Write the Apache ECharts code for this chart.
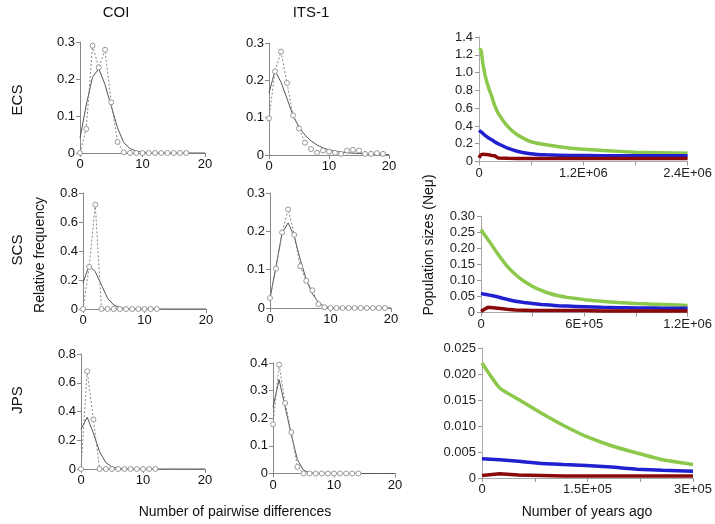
<!DOCTYPE html>
<html>
<head>
<meta charset="utf-8">
<script src="https://cdn.jsdelivr.net/npm/echarts@6/dist/echarts.min.js"></script>
<style>
html,body{margin:0;padding:0;background:#fff;}
#chart{width:715px;height:524px;}
</style>
</head>
<body>
<div id="chart"></div>
<script>
// ---------- Mismatch distributions (x = number of pairwise differences 0,1,2,...) ----------
const coiEcsObs = [0, 0.065, 0.29, 0.231, 0.279, 0.137, 0.03, 0.002, 0, 0, 0, 0, 0, 0, 0, 0, 0, 0];
const coiEcsExp = [0.04, 0.13, 0.205, 0.228, 0.185, 0.126, 0.068, 0.028, 0.012, 0.005, 0.002, 0.001, 0, 0, 0, 0, 0, 0, 0, 0, 0];
const itsEcsObs = [0.098, 0.224, 0.277, 0.193, 0.106, 0.071, 0.033, 0.016, 0.006, 0.012, 0.009, 0.006, 0.003, 0.012, 0.014, 0.012, 0.003, 0.003, 0.005, 0.003];
const itsEcsExp = [0.166, 0.226, 0.195, 0.151, 0.106, 0.075, 0.053, 0.038, 0.027, 0.019, 0.014, 0.01, 0.008, 0.006, 0.005, 0.004, 0.003, 0.002, 0.002, 0.001, 0.001];
const coiScsObs = [0, 0.29, 0.72, 0, 0, 0, 0, 0, 0, 0, 0, 0, 0];
const coiScsExp = [0.18, 0.30, 0.257, 0.165, 0.074, 0.028, 0.01, 0.004, 0.002, 0.001, 0, 0, 0, 0, 0, 0, 0, 0, 0, 0, 0];
const itsScsObs = [0.026, 0.103, 0.197, 0.257, 0.191, 0.109, 0.071, 0.046, 0.01, 0.002, 0, 0, 0, 0, 0, 0, 0, 0, 0, 0];
const itsScsExp = [0.026, 0.109, 0.196, 0.222, 0.187, 0.126, 0.074, 0.037, 0.015, 0.004, 0.001, 0, 0, 0, 0, 0, 0, 0, 0, 0, 0];
const coiJpsObs = [0, 0.68, 0.345, 0, 0, 0, 0, 0, 0, 0, 0, 0, 0];
const coiJpsExp = [0.276, 0.36, 0.25, 0.12, 0.045, 0.015, 0.005, 0.002, 0, 0, 0, 0, 0, 0, 0, 0, 0, 0, 0, 0, 0];
const itsJpsObs = [0.178, 0.394, 0.255, 0.149, 0.024, 0, 0, 0, 0, 0, 0, 0, 0, 0, 0];
const itsJpsExp = [0.24, 0.34, 0.24, 0.14, 0.05, 0.012, 0.003, 0.001, 0, 0, 0, 0, 0, 0, 0, 0, 0, 0, 0, 0, 0];

// ---------- Population sizes through time ----------
const ecsYears = [0, 20000, 45000, 73000, 110000, 147000, 180000, 220000, 330000, 440000, 590000, 770000, 1060000, 1430000, 1800000, 2400000];
const ecsGreen = [1.25, 1.26, 1.1, 0.958, 0.83, 0.732, 0.63, 0.544, 0.394, 0.30, 0.225, 0.188, 0.15, 0.124, 0.105, 0.094];
const ecsBlue  = [0.35, 0.335, 0.315, 0.29, 0.265, 0.244, 0.222, 0.2, 0.15, 0.115, 0.088, 0.075, 0.068, 0.066, 0.065, 0.065];
const ecsRed   = [0.04, 0.075, 0.083, 0.08, 0.075, 0.068, 0.065, 0.04, 0.036, 0.035, 0.035, 0.035, 0.035, 0.035, 0.035, 0.035];

const scsYears = [0, 20000, 40000, 50000, 100000, 150000, 200000, 250000, 300000, 350000, 400000, 450000, 500000, 600000, 700000, 800000, 900000, 1000000, 1100000, 1200000];
const scsGreen = [0.258, 0.242, 0.227, 0.22, 0.18, 0.145, 0.118, 0.097, 0.081, 0.069, 0.059, 0.052, 0.047, 0.040, 0.035, 0.031, 0.028, 0.026, 0.024, 0.022];
const scsBlue  = [0.059, 0.057, 0.055, 0.054, 0.048, 0.041, 0.035, 0.031, 0.028, 0.025, 0.023, 0.021, 0.02, 0.018, 0.016, 0.015, 0.014, 0.014, 0.013, 0.013];
const scsRed   = [0.003, 0.01, 0.016, 0.015, 0.013, 0.01, 0.008, 0.007, 0.006, 0.006, 0.006, 0.006, 0.006, 0.006, 0.005, 0.005, 0.005, 0.005, 0.005, 0.005];

const jpsYears = [0, 25000, 52000, 84000, 116000, 148000, 184000, 220000, 257000, 300000];
const jpsGreen = [0.0221, 0.0173, 0.0151, 0.0125, 0.0101, 0.008, 0.0062, 0.0048, 0.0035, 0.0026];
const jpsBlue  = [0.0037, 0.0035, 0.0032, 0.0028, 0.0026, 0.0024, 0.0021, 0.0017, 0.0015, 0.0013];
const jpsRed   = [0.0005, 0.0008, 0.0006, 0.0005, 0.0004, 0.0004, 0.0004, 0.0004, 0.0004, 0.0004];

// ---------- Tick labels ----------
const ecsXTicks = [0, 1200000, 2400000];
const ecsXLabels = ['0', '1.2E+06', '2.4E+06'];
const scsXTicks = [0, 600000, 1200000];
const scsXLabels = ['0', '6E+05', '1.2E+06'];
const jpsXTicks = [0, 150000, 300000];
const jpsXLabels = ['0', '1.5E+05', '3E+05'];

const colTitles = ['COI', 'ITS-1'];
const rowTitles = ['ECS', 'SCS', 'JPS'];

// ---------- Layout ----------
const FONT = 'Liberation Sans, Arial, sans-serif';
const grids = [
  {left: 80,  top: 42,  width: 125, height: 111},
  {left: 269, top: 43,  width: 120, height: 112},
  {left: 479, top: 37,  width: 219, height: 124.5},
  {left: 83,  top: 193, width: 123, height: 116},
  {left: 270, top: 193, width: 121, height: 115},
  {left: 481, top: 216, width: 221, height: 96.5},
  {left: 81,  top: 354, width: 124, height: 115},
  {left: 273, top: 363, width: 122, height: 110.5},
  {left: 482, top: 348, width: 220, height: 130}
];

const xAxes = [], yAxes = [], series = [];

function leftPanel(gi, obs, exp, ymax, yint) {
  xAxes.push({
    gridIndex: gi, type: 'value', min: 0, max: 20, interval: 10,
    axisLine: {show: true, lineStyle: {color: '#888', width: 1}},
    axisTick: {show: true, length: 4, lineStyle: {color: '#888'}},
    axisLabel: {color: '#111', fontSize: 13, fontFamily: FONT, margin: 5},
    splitLine: {show: false}
  });
  yAxes.push({
    gridIndex: gi, type: 'value', min: 0, max: ymax, interval: yint,
    axisLine: {show: true, lineStyle: {color: '#888', width: 1}},
    axisTick: {show: true, length: 4, lineStyle: {color: '#888'}},
    axisLabel: {color: '#111', fontSize: 13, fontFamily: FONT, margin: 5},
    splitLine: {show: false}
  });
  series.push({
    type: 'line', xAxisIndex: gi, yAxisIndex: gi,
    data: exp.map((v, i) => [i, v]),
    symbol: 'none', lineStyle: {color: '#555', width: 1}, silent: true, z: 2
  });
  series.push({
    type: 'line', xAxisIndex: gi, yAxisIndex: gi,
    data: obs.map((v, i) => [i, v]),
    symbol: 'circle', symbolSize: 5,
    itemStyle: {color: '#fff', borderColor: '#999', borderWidth: 1},
    lineStyle: {color: '#888', width: 1, type: [2, 2]}, silent: true, z: 3
  });
}

function rightPanel(gi, years, g, b, r, xmax, xint, ticks, labels, ymax, yint, dec) {
  xAxes.push({
    gridIndex: gi, type: 'value', min: 0, max: xmax, interval: xint,
    axisLine: {show: true, lineStyle: {color: '#aaa', width: 1}},
    axisTick: {show: true, length: 4, lineStyle: {color: '#999'}},
    axisLabel: {color: '#222', fontSize: 13, fontFamily: FONT, margin: 5, showMaxLabel: true,
      formatter: v => { const k = ticks.findIndex(t => Math.abs(t - v) < 1); return k >= 0 ? labels[k] : ''; }},
    splitLine: {show: false}
  });
  yAxes.push({
    gridIndex: gi, type: 'value', min: 0, max: ymax, interval: yint,
    axisLine: {show: true, lineStyle: {color: '#aaa', width: 1}},
    axisTick: {show: true, length: 4, lineStyle: {color: '#999'}},
    axisLabel: {color: '#222', fontSize: 13, fontFamily: FONT, margin: 6,
      formatter: v => v === 0 ? '0' : v.toFixed(dec)},
    splitLine: {show: false}
  });
  const mk = (vals, color, z) => ({
    type: 'line', xAxisIndex: gi, yAxisIndex: gi,
    data: vals.map((v, i) => [years[i], v]),
    symbol: 'none', smooth: 0.15, lineStyle: {color: color, width: 3.5}, silent: true, z: z
  });
  series.push(mk(g, '#8cc84b', 2));
  series.push(mk(b, '#2020d0', 3));
  series.push(Object.assign(mk(r, '#8a0a0a', 4), {smooth: false}));
}

leftPanel(0, coiEcsObs, coiEcsExp, 0.3, 0.1);
leftPanel(1, itsEcsObs, itsEcsExp, 0.3, 0.1);
rightPanel(2, ecsYears, ecsGreen, ecsBlue, ecsRed, 2400000, 600000, ecsXTicks, ecsXLabels, 1.4, 0.2, 1);
leftPanel(3, coiScsObs, coiScsExp, 0.8, 0.2);
leftPanel(4, itsScsObs, itsScsExp, 0.3, 0.1);
rightPanel(5, scsYears, scsGreen, scsBlue, scsRed, 1200000, 300000, scsXTicks, scsXLabels, 0.30, 0.05, 2);
leftPanel(6, coiJpsObs, coiJpsExp, 0.8, 0.2);
leftPanel(7, itsJpsObs, itsJpsExp, 0.4, 0.1);
rightPanel(8, jpsYears, jpsGreen, jpsBlue, jpsRed, 300000, 75000, jpsXTicks, jpsXLabels, 0.025, 0.005, 3);

const txt = (x, y, t, size, rot) => ({
  type: 'text', x: x, y: y, rotation: rot || 0,
  style: {text: t, fill: '#111', font: size + 'px ' + FONT, textAlign: 'center', textVerticalAlign: 'middle'}
});

const graphics = [
  txt(116, 13, colTitles[0], 15),
  txt(311, 13, colTitles[1], 15),
  txt(18, 100, rowTitles[0], 15, Math.PI / 2),
  txt(18, 250, rowTitles[1], 15, Math.PI / 2),
  txt(18, 400, rowTitles[2], 15, Math.PI / 2),
  txt(40, 255, 'Relative frequency', 14, Math.PI / 2),
  txt(429, 245, 'Population sizes (Neμ)', 14, Math.PI / 2),
  txt(235, 512, 'Number of pairwise differences', 14),
  txt(587, 512, 'Number of years ago', 14)
];

const chart = echarts.init(document.getElementById('chart'), null, {renderer: 'canvas'});
chart.setOption({
  animation: false,
  backgroundColor: '#fff',
  grid: grids,
  xAxis: xAxes,
  yAxis: yAxes,
  series: series,
  graphic: graphics
});
</script>
</body>
</html>
